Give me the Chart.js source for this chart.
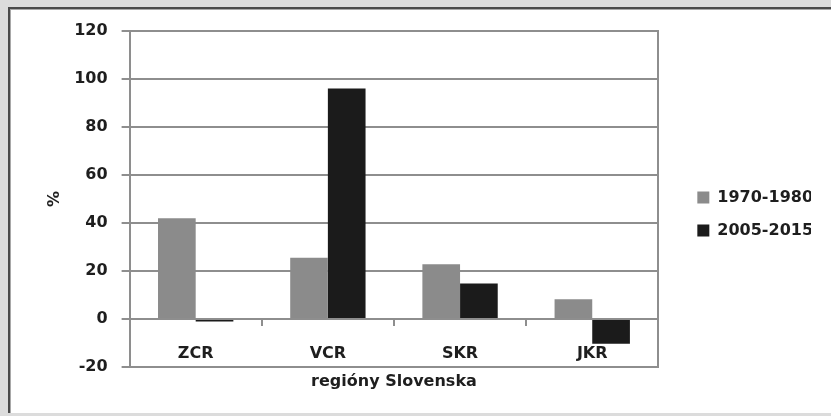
<!DOCTYPE html>
<html><head><meta charset="utf-8">
<script src="https://cdn.jsdelivr.net/npm/chart.js@4"></script>
<style>
html,body{margin:0;padding:0;background:#dcdcdc;width:831px;height:416px;overflow:hidden}
#panel{position:absolute;left:8px;top:7px;width:840px;height:404px;background:#fff;border-left:2px solid #4a4a4a;border-top:2px solid #4a4a4a;box-shadow:inset 1px 1px 0 #a8a8a8}
#wrap{position:absolute;left:0;top:0;width:831px;height:416px}
</style></head><body>
<div id="panel"></div>
<div id="wrap"><canvas id="c" width="831" height="416"></canvas></div>
<script>
const categories = ['ZCR', 'VCR', 'SKR', 'JKR'];
const series1Label = '1970-1980';
const series1 = [42, 25.5, 22.8, 8.2];
const series2Label = '2005-2015';
const series2 = [-1, 96, 14.8, -10.3];
const yTicks = [-20, 0, 20, 40, 60, 80, 100, 120];
const xTitle = 'regióny Slovenska';
const yTitle = '%';

const FONT = {family: '"DejaVu Sans", sans-serif', size: 16, weight: 'bold'};
const TEXT = '#1e1e1e';
const GRID = '#8e8e8e';

const zeroTicks = {
  id: 'zeroTicks',
  afterDatasetsDraw(chart) {
    const xs = chart.scales.x, ys = chart.scales.y, ctx = chart.ctx;
    const y0 = ys.getPixelForValue(0);
    ctx.save();
    ctx.strokeStyle = GRID;
    ctx.lineWidth = 2;
    for (let i = 1; i < categories.length; i++) {
      const x = Math.round((xs.getPixelForValue(i - 1) + xs.getPixelForValue(i)) / 2);
      ctx.beginPath();
      ctx.moveTo(x, y0);
      ctx.lineTo(x, y0 + 7);
      ctx.stroke();
    }
    ctx.restore();
  }
};

new Chart(document.getElementById('c'), {
  type: 'bar',
  data: {
    labels: categories,
    datasets: [
      {label: series1Label, data: series1, backgroundColor: '#8b8b8b', categoryPercentage: 0.57, barPercentage: 1.0},
      {label: series2Label, data: series2, backgroundColor: '#1b1b1b', categoryPercentage: 0.57, barPercentage: 1.0}
    ]
  },
  plugins: [zeroTicks],
  options: {
    responsive: false,
    animation: false,
    layout: {padding: {left: 27, right: 20, top: 31, bottom: 19}},
    plugins: {
      legend: {
        position: 'right',
        labels: {boxWidth: 12, boxHeight: 12, padding: 17, font: FONT, color: TEXT}
      },
      tooltip: {enabled: false}
    },
    scales: {
      x: {
        grid: {display: false},
        border: {display: false},
        ticks: {mirror: true, padding: 3.2, font: FONT, color: TEXT, autoSkip: false, maxRotation: 0},
        title: {display: true, text: xTitle, font: FONT, color: TEXT, padding: {top: -9, bottom: 5.4}}
      },
      y: {
        min: yTicks[0], max: yTicks[yTicks.length - 1],
        afterBuildTicks(s) { s.ticks = yTicks.map(v => ({value: v})); },
        ticks: {padding: 14, font: FONT, color: TEXT},
        grid: {color: GRID, lineWidth: 2, tickLength: 8},
        border: {color: GRID, width: 2},
        title: {display: true, text: yTitle, font: FONT, color: TEXT, padding: {top: 18, bottom: -4}}
      },
      y2: {
        position: 'right',
        display: true,
        ticks: {display: false},
        grid: {drawOnChartArea: false, drawTicks: false},
        border: {color: GRID, width: 2},
        afterFit(s) { s.width = 22; }
      }
    }
  }
});
</script>
</body></html>
